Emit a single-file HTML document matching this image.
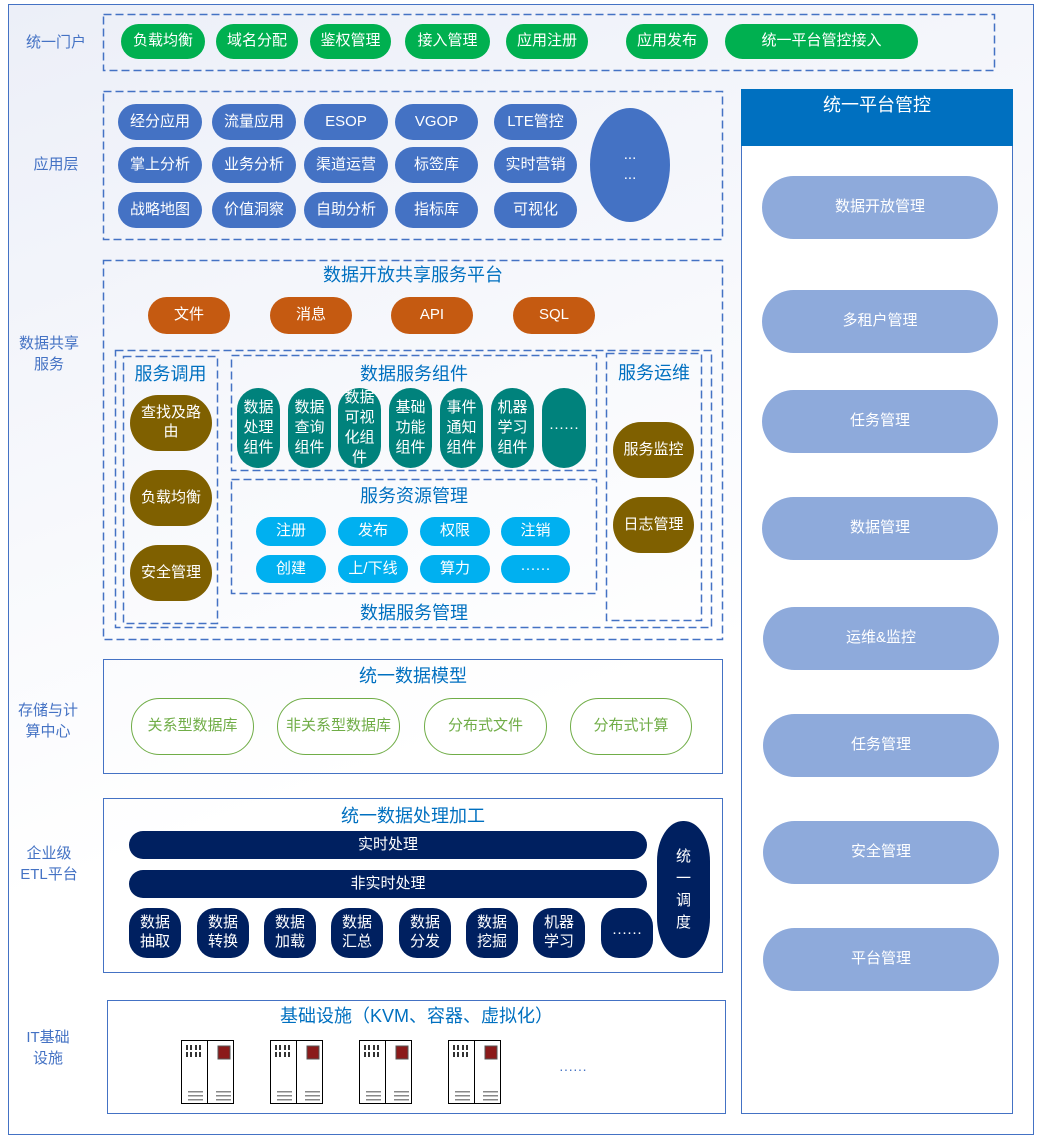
<!DOCTYPE html><html><head><meta charset="utf-8"><style>
body{margin:0;width:1040px;height:1137px;position:relative;background:#fff;font-family:"Liberation Sans","Noto Sans CJK SC",sans-serif;overflow:hidden}
div{position:absolute;box-sizing:border-box}
.p{display:flex;align-items:center;justify-content:center;text-align:center;color:#fff;font-size:15px;border-radius:999px;line-height:1.25}
.s{border:1.5px solid #4472c4}
.l{color:#4472c4;font-size:15px;text-align:center;width:90px;line-height:21px}
.t{color:#0070c0;font-size:18px;text-align:center}
.g{background:#00b050}.b{background:#4472c4}.o{background:#c55a11}.br{background:#7f6000}.tl{background:#00827c;border-radius:22px;font-size:15px;line-height:20px}.c{background:#00b0f0}.n{background:#002060}.r{background:#8eaadb}
.og{background:#fff;border:1px solid #70ad47;color:#70ad47}
.sv{width:27px;height:64px;border:1.5px solid #000;background:#fff}
</style></head><body>
<div style="left:8px;top:4px;width:1026px;height:1131px;border:1.5px solid #4472c4;background:linear-gradient(160deg,#eceff8,#fff 60%)"></div>
<svg style="position:absolute;left:0;top:0" width="1040" height="1137"><g fill="none" stroke="#4472c4" stroke-width="1.5" stroke-dasharray="8,4">
<rect x="103.5" y="14.5" width="891" height="56"/>
<rect x="103.5" y="91.5" width="619" height="148"/>
<rect x="103.5" y="260.5" width="619" height="379"/>
<rect x="115.5" y="350.5" width="596" height="277"/>
<rect x="123.5" y="356.5" width="94" height="267"/>
<rect x="231.5" y="355.5" width="365" height="115"/>
<rect x="231.5" y="479.5" width="365" height="114"/>
<rect x="606.5" y="353.5" width="95" height="267"/>
</g></svg>
<div class="l" style="left:11px;top:32px">统一门户</div>
<div class="l" style="left:11px;top:154px">应用层</div>
<div class="l" style="left:4px;top:333px">数据共享<br>服务</div>
<div class="l" style="left:3px;top:700px">存储与计<br>算中心</div>
<div class="l" style="left:4px;top:843px">企业级<br>ETL平台</div>
<div class="l" style="left:3px;top:1027px">IT基础<br>设施</div>

<div class="p g" style="left:121px;top:24px;width:84px;height:35px">负载均衡</div>
<div class="p g" style="left:216px;top:24px;width:82px;height:35px">域名分配</div>
<div class="p g" style="left:310px;top:24px;width:81px;height:35px">鉴权管理</div>
<div class="p g" style="left:405px;top:24px;width:85px;height:35px">接入管理</div>
<div class="p g" style="left:506px;top:24px;width:82px;height:35px">应用注册</div>
<div class="p g" style="left:626px;top:24px;width:82px;height:35px">应用发布</div>
<div class="p g" style="left:725px;top:24px;width:193px;height:35px">统一平台管控接入</div>

<div class="p b" style="left:118px;top:104px;width:84px;height:36px">经分应用</div>
<div class="p b" style="left:212px;top:104px;width:84px;height:36px">流量应用</div>
<div class="p b" style="left:304px;top:104px;width:84px;height:36px">ESOP</div>
<div class="p b" style="left:395px;top:104px;width:83px;height:36px">VGOP</div>
<div class="p b" style="left:494px;top:104px;width:83px;height:36px">LTE管控</div>
<div class="p b" style="left:118px;top:147px;width:84px;height:36px">掌上分析</div>
<div class="p b" style="left:212px;top:147px;width:84px;height:36px">业务分析</div>
<div class="p b" style="left:304px;top:147px;width:84px;height:36px">渠道运营</div>
<div class="p b" style="left:395px;top:147px;width:83px;height:36px">标签库</div>
<div class="p b" style="left:494px;top:147px;width:83px;height:36px">实时营销</div>
<div class="p b" style="left:118px;top:192px;width:84px;height:36px">战略地图</div>
<div class="p b" style="left:212px;top:192px;width:84px;height:36px">价值洞察</div>
<div class="p b" style="left:304px;top:192px;width:84px;height:36px">自助分析</div>
<div class="p b" style="left:395px;top:192px;width:83px;height:36px">指标库</div>
<div class="p b" style="left:494px;top:192px;width:83px;height:36px">可视化</div>
<div class="p b" style="left:590px;top:108px;width:80px;height:114px;border-radius:40px/57px;line-height:20px">...<br>...</div>

<div style="left:741px;top:89px;width:272px;height:1025px;border:1.5px solid #4472c4;background:#fff"></div>
<div style="left:741px;top:89px;width:272px;height:57px;background:#0070c0;color:#fff;font-size:18px;text-align:center;padding-top:2px">统一平台管控</div>
<div class="p r" style="left:762px;top:176px;width:236px;height:63px">数据开放管理</div>
<div class="p r" style="left:762px;top:290px;width:236px;height:63px">多租户管理</div>
<div class="p r" style="left:762px;top:390px;width:236px;height:63px">任务管理</div>
<div class="p r" style="left:762px;top:497px;width:236px;height:63px">数据管理</div>
<div class="p r" style="left:763px;top:607px;width:236px;height:63px">运维&amp;监控</div>
<div class="p r" style="left:763px;top:714px;width:236px;height:63px">任务管理</div>
<div class="p r" style="left:763px;top:821px;width:236px;height:63px">安全管理</div>
<div class="p r" style="left:763px;top:928px;width:236px;height:63px">平台管理</div>

<div class="t" style="left:103px;top:261px;width:620px">数据开放共享服务平台</div>
<div class="p o" style="left:148px;top:297px;width:82px;height:37px">文件</div>
<div class="p o" style="left:270px;top:297px;width:82px;height:37px">消息</div>
<div class="p o" style="left:391px;top:297px;width:82px;height:37px">API</div>
<div class="p o" style="left:513px;top:297px;width:82px;height:37px">SQL</div>
<div class="t" style="left:123px;top:360px;width:95px">服务调用</div>
<div class="p br" style="left:130px;top:395px;width:82px;height:56px">查找及路<br>由</div>
<div class="p br" style="left:130px;top:470px;width:82px;height:56px">负载均衡</div>
<div class="p br" style="left:130px;top:545px;width:82px;height:56px">安全管理</div>
<div class="t" style="left:231px;top:360px;width:366px">数据服务组件</div>
<div class="p tl" style="left:237px;top:388px;width:43px;height:80px">数据<br>处理<br>组件</div>
<div class="p tl" style="left:288px;top:388px;width:43px;height:80px">数据<br>查询<br>组件</div>
<div class="p tl" style="left:338px;top:388px;width:43px;height:80px">数据<br>可视<br>化组<br>件</div>
<div class="p tl" style="left:389px;top:388px;width:43px;height:80px">基础<br>功能<br>组件</div>
<div class="p tl" style="left:440px;top:388px;width:43px;height:80px">事件<br>通知<br>组件</div>
<div class="p tl" style="left:491px;top:388px;width:43px;height:80px">机器<br>学习<br>组件</div>
<div class="p tl" style="left:542px;top:388px;width:44px;height:80px">······</div>
<div class="t" style="left:231px;top:482px;width:366px">服务资源管理</div>
<div class="p c" style="left:256px;top:517px;width:70px;height:29px">注册</div>
<div class="p c" style="left:338px;top:517px;width:70px;height:29px">发布</div>
<div class="p c" style="left:420px;top:517px;width:70px;height:29px">权限</div>
<div class="p c" style="left:501px;top:517px;width:69px;height:29px">注销</div>
<div class="p c" style="left:256px;top:555px;width:70px;height:28px">创建</div>
<div class="p c" style="left:338px;top:555px;width:70px;height:28px">上/下线</div>
<div class="p c" style="left:420px;top:555px;width:70px;height:28px">算力</div>
<div class="p c" style="left:501px;top:555px;width:69px;height:28px">······</div>
<div class="t" style="left:231px;top:599px;width:366px">数据服务管理</div>
<div class="t" style="left:606px;top:359px;width:96px">服务运维</div>
<div class="p br" style="left:613px;top:422px;width:81px;height:56px">服务监控</div>
<div class="p br" style="left:613px;top:497px;width:81px;height:56px">日志管理</div>

<div class="s" style="left:103px;top:659px;width:620px;height:115px"></div>
<div class="t" style="left:103px;top:662px;width:620px">统一数据模型</div>
<div class="p og" style="left:131px;top:698px;width:123px;height:57px">关系型数据库</div>
<div class="p og" style="left:277px;top:698px;width:123px;height:57px">非关系型数据库</div>
<div class="p og" style="left:424px;top:698px;width:123px;height:57px">分布式文件</div>
<div class="p og" style="left:570px;top:698px;width:122px;height:57px">分布式计算</div>

<div class="s" style="left:103px;top:798px;width:620px;height:175px"></div>
<div class="t" style="left:103px;top:802px;width:620px">统一数据处理加工</div>
<div class="p n" style="left:129px;top:831px;width:518px;height:28px">实时处理</div>
<div class="p n" style="left:129px;top:870px;width:518px;height:28px">非实时处理</div>
<div class="p n" style="left:129px;top:908px;width:52px;height:50px;border-radius:18px">数据<br>抽取</div>
<div class="p n" style="left:197px;top:908px;width:52px;height:50px;border-radius:18px">数据<br>转换</div>
<div class="p n" style="left:264px;top:908px;width:52px;height:50px;border-radius:18px">数据<br>加载</div>
<div class="p n" style="left:331px;top:908px;width:52px;height:50px;border-radius:18px">数据<br>汇总</div>
<div class="p n" style="left:399px;top:908px;width:52px;height:50px;border-radius:18px">数据<br>分发</div>
<div class="p n" style="left:466px;top:908px;width:52px;height:50px;border-radius:18px">数据<br>挖掘</div>
<div class="p n" style="left:533px;top:908px;width:52px;height:50px;border-radius:18px">机器<br>学习</div>
<div class="p n" style="left:601px;top:908px;width:52px;height:50px;border-radius:18px">······</div>
<div class="p n" style="left:657px;top:821px;width:53px;height:137px;border-radius:26px/40px;line-height:22px">统<br>一<br>调<br>度</div>

<div class="s" style="left:107px;top:1000px;width:619px;height:114px;background:#fff"></div>
<div class="t" style="left:107px;top:1002px;width:619px">基础设施（KVM、容器、虚拟化）</div>
<div class="sv" style="left:181px;top:1040px"></div><div class="sv" style="left:207px;top:1040px"></div>
<div class="sv" style="left:270px;top:1040px"></div><div class="sv" style="left:296px;top:1040px"></div>
<div class="sv" style="left:359px;top:1040px"></div><div class="sv" style="left:385px;top:1040px"></div>
<div class="sv" style="left:448px;top:1040px"></div><div class="sv" style="left:474px;top:1040px"></div>
<svg style="position:absolute;left:0;top:0" width="1040" height="1137">
<g id="s0">
<g fill="#333"><rect x="186" y="1045" width="2" height="5"/><rect x="190" y="1045" width="2" height="5"/><rect x="195" y="1045" width="2" height="5"/><rect x="199" y="1045" width="2" height="5"/><rect x="186" y="1052" width="2" height="5"/><rect x="190" y="1052" width="2" height="5"/><rect x="195" y="1052" width="2" height="5"/><rect x="199" y="1052" width="2" height="5"/></g>
<rect x="218" y="1046" width="12" height="13" fill="#8b1a1a" stroke="#555"/>
<g fill="#888"><rect x="188" y="1091" width="15" height="1.5"/><rect x="188" y="1095" width="15" height="1.5"/><rect x="188" y="1099" width="15" height="1.5"/><rect x="216" y="1091" width="15" height="1.5"/><rect x="216" y="1095" width="15" height="1.5"/><rect x="216" y="1099" width="15" height="1.5"/></g>
</g>
<use href="#s0" x="89"/><use href="#s0" x="178"/><use href="#s0" x="267"/>
<text x="573" y="1074" font-size="14" fill="#4472c4" text-anchor="middle" font-family="Liberation Sans">······</text>
</svg>
</body></html>
